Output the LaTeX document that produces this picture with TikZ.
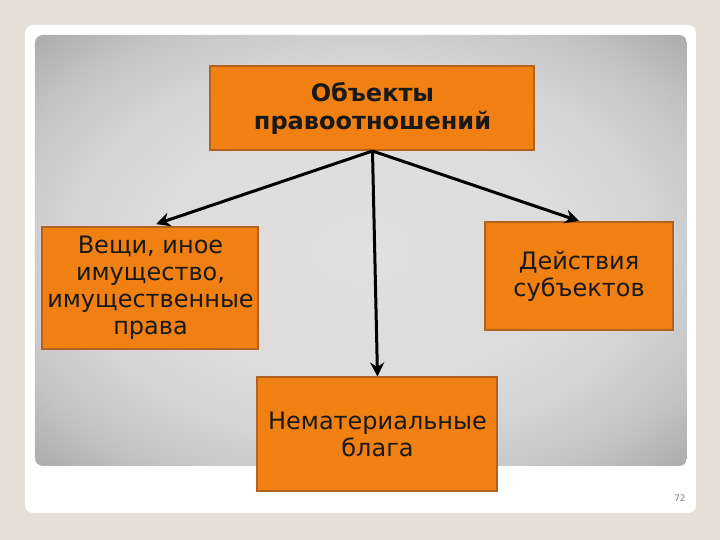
\documentclass[tikz,border=0pt]{standalone}
\usepackage{fontspec}
\setmainfont{DejaVu Sans}
\usetikzlibrary{arrows.meta}
\definecolor{boxfill}{RGB}{240,128,18}
\definecolor{boxline}{RGB}{178,98,30}
\definecolor{slidebg}{RGB}{228,224,216}
\pgfdeclareradialshading{panelglow}{\pgfpoint{0bp}{0bp}}{%
  color(0bp)=(gray!24); color(15bp)=(gray!27); color(22bp)=(gray!33);
  color(29bp)=(gray!46); color(35bp)=(gray!64); color(50bp)=(gray!80)}

\begin{document}
\begin{tikzpicture}[x=0.5pt, y=-0.5pt,
    every node/.style={font=\fontsize{12}{13.5}\selectfont, align=center, text=black!90},
    orangebox/.style={draw=boxline, line width=1pt, fill=boxfill, inner sep=0pt},
    link/.style={-{Stealth[length=7pt, width=7pt]}, line width=1.5pt}]

    % slide background
    \useasboundingbox (0,0) rectangle (720,540);
    \fill[slidebg] (0,0) rectangle (720,540);
    \fill[white, rounded corners=4pt] (25,25) rectangle (696,513);
    \shade[shading=panelglow, rounded corners=4pt] (35,35) rectangle (687,466);
    \node[font=\fontsize{4.5}{5}\selectfont, text=gray] (num) at (680,498) {72};

    % boxes
    \node[orangebox, minimum width=162pt, minimum height=42pt, font=\fontsize{12}{14}\selectfont\bfseries] (obj) at (372.5,108) {Объекты\\правоотношений};
    \node[orangebox, minimum width=108pt, minimum height=61pt] (veschi) at (150.5,288) {Вещи, иное\\имущество,\\имущественные\\права};
    \node[orangebox, minimum width=94pt, minimum height=54pt] (deistv) at (579,276) {Действия\\субъектов};
    \node[orangebox, minimum width=120pt, minimum height=57pt] (nemat) at (377.5,434.5) {Нематериальные\\блага};

    % arrows
    \draw[link, shorten >=3pt] (obj.south) -- (veschi.north);
    \draw[link] (obj.south) -- (deistv.north);
    \draw[link] (obj.south) -- (nemat.north);
\end{tikzpicture}
\end{document}
